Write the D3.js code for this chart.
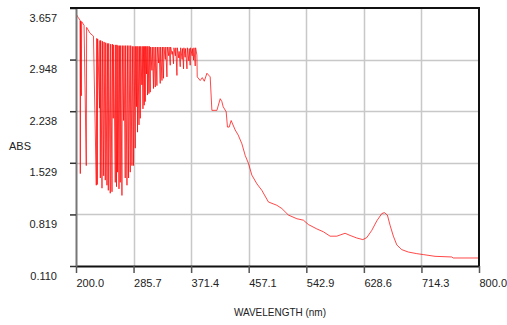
<!DOCTYPE html>
<html>
<head>
<meta charset="utf-8">
<script src="https://cdn.jsdelivr.net/npm/d3@7"></script>
<style>
  html, body { margin: 0; padding: 0; background: #fff; }
  svg { display: block; }
  text { font-family: "Liberation Sans", Arial, sans-serif; font-size: 11px; fill: #222; }
</style>
</head>
<body>
<svg id="chart" width="507" height="325"></svg>
<script>
// Axis tick values and their printed labels
const xTickValues = [200.0, 285.7, 371.4, 457.1, 542.9, 628.6, 714.3, 800.0];
const xTickLabels = ["200.0", "285.7", "371.4", "457.1", "542.9", "628.6", "714.3", "800.0"];
const yTickValues = [0.110, 0.819, 1.529, 2.238, 2.948, 3.657];
const yTickLabels = ["0.110", "0.819", "1.529", "2.238", "2.948", "3.657"];

// Absorbance spectrum: [wavelength (nm), ABS]
// 200–380 nm: saturated region with detector dropouts
const spectrumUV = [
  [200, 3.58], [203, 3.53], [206, 3.49], [206.4, 1.38], [206.9, 3.48], [207.9, 2.45], [208.4, 3.47],
  [212, 3.42], [215.3, 1.49], [215.8, 3.39], [221, 3.31], [226, 3.27], [230.2, 1.22], [231, 3.24],
  [231.7, 1.23], [232.3, 3.23], [235.1, 2.28], [235.6, 3.21], [236.2, 1.32], [236.8, 3.21],
  [238.7, 1.18], [239.3, 3.20], [241.2, 1.35], [241.8, 3.19], [243.6, 1.29], [244.2, 3.18],
  [246.1, 1.22], [246.7, 3.17], [248.1, 1.15], [248.7, 3.17], [251.0, 1.11], [251.6, 3.16],
  [253.6, 1.13], [254.2, 3.16], [255.5, 2.14], [256.1, 3.15], [258.5, 1.26], [259.1, 3.15],
  [260.3, 1.20], [260.9, 3.15], [261.9, 1.40], [262.5, 3.14], [264.0, 1.17], [264.6, 3.14],
  [265.9, 1.26], [266.5, 3.14], [268.4, 1.08], [269.0, 3.14], [270.8, 2.11], [271.4, 3.14],
  [273.3, 1.32], [273.9, 3.14], [275.9, 1.22], [276.5, 3.14], [278.3, 1.32], [278.9, 3.14],
  [280.8, 1.40], [281.4, 3.14], [283.3, 1.49], [283.9, 3.13], [285.7, 1.49], [286.3, 3.13],
  [288.2, 1.73], [288.8, 3.13], [290.0, 2.30], [290.6, 3.13], [291.6, 1.95], [292.2, 3.13],
  [293.8, 2.05], [294.4, 3.13], [295.7, 2.14], [296.3, 3.13], [298.0, 2.60], [298.6, 3.13],
  [299.7, 2.27], [300.3, 3.13], [301.6, 2.32], [302.2, 3.13], [303.1, 2.37], [303.7, 3.13],
  [305.0, 2.75], [305.6, 3.13], [306.5, 2.46], [307.1, 3.13], [308.6, 2.48], [309.2, 3.13],
  [310.5, 2.50], [311.1, 3.12], [313.0, 2.80], [313.6, 3.12], [315.4, 2.55], [316.0, 3.12],
  [318.0, 2.57], [318.6, 3.12], [320.5, 2.59], [321.1, 3.12], [323.0, 2.90], [323.6, 3.12],
  [325.4, 2.62], [326.0, 3.12], [328.0, 2.66], [328.6, 3.12], [330.3, 2.69], [330.9, 3.12],
  [333.0, 2.95], [333.6, 3.12], [335.4, 2.71], [336.0, 3.12], [338.0, 3.00], [338.6, 3.12],
  [340.3, 2.87], [340.9, 3.12], [343.0, 3.02], [343.6, 3.06], [345.2, 2.89], [345.8, 3.11],
  [348.0, 3.00], [348.6, 3.11], [350.3, 2.73], [350.9, 3.11], [353.0, 2.97], [353.6, 3.06],
  [355.2, 2.85], [355.8, 3.11], [358.0, 2.95], [358.6, 3.10], [360.1, 2.82], [360.7, 3.11],
  [362.5, 2.98], [363.1, 3.10], [365.2, 2.82], [365.8, 3.11], [368.0, 2.93], [368.6, 3.10],
  [370.0, 2.87], [370.6, 3.11], [373.0, 3.00], [373.6, 3.10], [375.0, 2.94], [375.6, 3.11],
  [377.5, 2.86], [378.1, 3.11], [380.0, 3.01]
];
// 380–800 nm: visible band with the ~660 nm peak
const spectrumVis = [
  [380.5, 2.71], [384.9, 2.66], [388.0, 2.70], [391.0, 2.65], [394.9, 2.76], [399.8, 2.71],
  [402.3, 2.25], [409.8, 2.25], [414.7, 2.41], [417.2, 2.37], [419.1, 2.30], [423.6, 2.23],
  [425.5, 2.02], [428.1, 2.02], [431.0, 2.11], [437.0, 1.98], [441.5, 1.91], [447.0, 1.79],
  [451.9, 1.63], [456.8, 1.52], [461.8, 1.36], [469.3, 1.24], [476.7, 1.15], [486.5, 0.99],
  [499.0, 0.945], [506.5, 0.90], [516.3, 0.81], [528.8, 0.76], [538.6, 0.74], [546.0, 0.68],
  [558.5, 0.62], [568.4, 0.58], [578.3, 0.52], [588.3, 0.52], [600.6, 0.56], [608.1, 0.53],
  [618.0, 0.495], [627.0, 0.473], [632.9, 0.50], [640.4, 0.60], [647.8, 0.73], [655.2, 0.83],
  [659.1, 0.844], [663.6, 0.81], [667.6, 0.67], [672.5, 0.52], [677.6, 0.40], [685.0, 0.335],
  [694.8, 0.302], [707.3, 0.280], [717.1, 0.267], [734.5, 0.243], [759.4, 0.234], [761.8, 0.220],
  [800.0, 0.220]
];
const spectrum = spectrumUV.concat(spectrumVis);

const svg = d3.select("#chart");
const plotLeft = 76, plotRight = 479, plotTop = 8, plotBottom = 266;

const x = d3.scaleLinear().domain([200, 800]).range([plotLeft, plotRight]);
const y = d3.scaleLinear().domain([0.110, 3.657]).range([plotBottom, plotTop]);

// grid
svg.append("g")
  .selectAll("line")
  .data(xTickValues.slice(1, -1))
  .join("line")
  .attr("x1", d => Math.round(x(d)) + 0.5).attr("x2", d => Math.round(x(d)) + 0.5)
  .attr("y1", plotTop).attr("y2", plotBottom)
  .attr("stroke", "#c8c8c8").attr("stroke-width", 1.5);
svg.append("g")
  .selectAll("line")
  .data(yTickValues.slice(1, -1))
  .join("line")
  .attr("x1", plotLeft).attr("x2", plotRight)
  .attr("y1", d => Math.round(y(d)) + 0.5).attr("y2", d => Math.round(y(d)) + 0.5)
  .attr("stroke", "#c8c8c8").attr("stroke-width", 1.5);

// spectrum trace
svg.append("clipPath").attr("id", "plot-clip")
  .append("rect").attr("x", plotLeft).attr("y", plotTop)
  .attr("width", plotRight - plotLeft).attr("height", plotBottom - plotTop);
svg.append("path")
  .datum(spectrum)
  .attr("clip-path", "url(#plot-clip)")
  .attr("fill", "none")
  .attr("stroke", "#ff0000")
  .attr("stroke-width", 0.85)
  .attr("stroke-opacity", 0.85)
  .attr("d", d3.line().x(d => x(d[0])).y(d => y(d[1])));

// bottom axis
const xAxis = d3.axisBottom(x)
  .tickValues(xTickValues)
  .tickFormat((d, i) => xTickLabels[i])
  .tickSize(7).tickSizeOuter(0).tickPadding(6);
const gx = svg.append("g").attr("transform", `translate(0,${plotBottom})`).call(xAxis);
gx.attr("font-family", null).attr("font-size", null);
gx.select(".domain").attr("stroke", "#111").attr("stroke-width", 2);
gx.selectAll(".tick line").attr("stroke", "#555").attr("stroke-width", 1.5);
gx.selectAll(".tick text")
  .attr("text-anchor", "start")
  .attr("fill", "#222");

// left axis
const yAxis = d3.axisLeft(y)
  .tickValues(yTickValues)
  .tickFormat((d, i) => yTickLabels[i])
  .tickSize(6).tickSizeOuter(0).tickPadding(13);
const gy = svg.append("g").attr("transform", `translate(${plotLeft},0)`).call(yAxis);
gy.attr("font-family", null).attr("font-size", null);
gy.select(".domain").attr("stroke", "#777").attr("stroke-width", 2);
gy.selectAll(".tick line").attr("stroke", "#333").attr("stroke-width", 1.5);
gy.selectAll(".tick text")
  .attr("dy", "1.2em")
  .attr("fill", "#222");

// frame: top and right edges
svg.append("line").attr("x1", plotLeft - 6).attr("x2", plotRight + 1).attr("y1", plotTop).attr("y2", plotTop)
  .attr("stroke", "#111").attr("stroke-width", 2);
svg.append("line").attr("x1", plotRight).attr("x2", plotRight).attr("y1", plotTop).attr("y2", plotBottom)
  .attr("stroke", "#111").attr("stroke-width", 2);

// axis titles
svg.append("text").attr("x", 9).attr("y", 150).text("ABS");
svg.append("text").attr("x", 234).attr("y", 316)
  .attr("textLength", 92).attr("lengthAdjust", "spacingAndGlyphs")
  .text("WAVELENGTH (nm)");
</script>
</body>
</html>
